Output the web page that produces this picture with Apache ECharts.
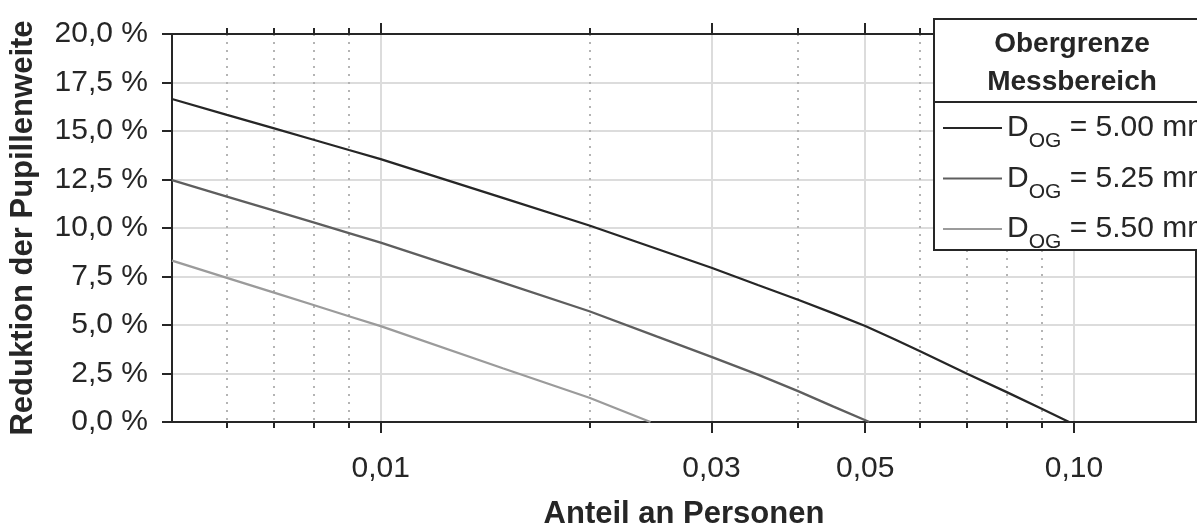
<!DOCTYPE html>
<html>
<head>
<meta charset="utf-8">
<script src="https://cdn.jsdelivr.net/npm/echarts@6/dist/echarts.min.js"></script>
<style>
  html, body { margin: 0; padding: 0; background: #ffffff; }
  #chart { width: 1197px; height: 525px; }
</style>
</head>
<body>
<div id="chart"></div>
<script>
// Axis ranges and ticks (x is a share of persons, drawn on a log scale)
const xMin = 0.005;
const xMax = 0.15;
const majorTicks = [0.01, 0.03, 0.05, 0.10];
const majorLabels = ['0,01', '0,03', '0,05', '0,10'];
const minorTicks = [0.006, 0.007, 0.008, 0.009, 0.02, 0.04, 0.06, 0.07, 0.08, 0.09];
const yMin = 0;
const yMax = 20;
const yStep = 2.5;

// Upper measuring-range limits (legend entries)
const limitLabels = ['5.00', '5.25', '5.50'];

// Reduction of pupil width (%) over share of persons
const share500 = [0.005, 0.006, 0.007, 0.008, 0.009, 0.01, 0.015, 0.02, 0.03, 0.035, 0.04, 0.045, 0.05, 0.055, 0.06, 0.07, 0.08, 0.09, 0.0984];
const reduction500 = [16.65, 15.83, 15.15, 14.55, 14.02, 13.55, 11.55, 10.13, 7.95, 7.06, 6.3, 5.6, 4.95, 4.28, 3.65, 2.5, 1.54, 0.67, 0];

const share525 = [0.005, 0.006, 0.007, 0.008, 0.009, 0.01, 0.015, 0.02, 0.025, 0.03, 0.035, 0.04, 0.045, 0.0507];
const reduction525 = [12.47, 11.62, 10.91, 10.29, 9.74, 9.25, 7.18, 5.71, 4.41, 3.36, 2.44, 1.59, 0.79, 0];

const share550 = [0.005, 0.006, 0.007, 0.008, 0.009, 0.01, 0.015, 0.02, 0.0245];
const reduction550 = [8.32, 7.43, 6.68, 6.03, 5.45, 4.94, 2.77, 1.25, 0];

const lg = Math.log10;
const toPoints = (xs, ys) => xs.map((x, i) => [lg(x), ys[i]]);

const ink = '#262626';
const font = 'Liberation Sans, Arial, Helvetica, sans-serif';
const lineColors = ['#262626', '#5e5e5e', '#9b9b9b'];

function majorLabel(v) {
  for (let i = 0; i < majorTicks.length; i++) {
    if (Math.abs(lg(majorTicks[i]) - v) < 1e-6) return majorLabels[i];
  }
  return '';
}

const seriesNames = limitLabels.map(l => 'DOG = ' + l + ' mm');
const seriesData = [
  toPoints(share500, reduction500),
  toPoints(share525, reduction525),
  toPoints(share550, reduction550)
];

function xAxisBase(position) {
  return {
    type: 'value',
    position: position,
    min: lg(xMin),
    max: lg(xMax),
    axisLine: { show: true, onZero: false, lineStyle: { color: ink, width: 2 } },
    axisLabel: { show: false },
    splitLine: { show: false }
  };
}

const chart = echarts.init(document.getElementById('chart'), null, { renderer: 'canvas' });

chart.setOption({
  animation: false,
  backgroundColor: '#ffffff',
  textStyle: { fontFamily: font },
  grid: { left: 172, right: 1, top: 34, bottom: 103, containLabel: false, outerBoundsMode: 'none' },
  xAxis: [
    // bottom axis: major ticks, labels, solid grid lines and axis title
    Object.assign(xAxisBase('bottom'), {
      name: 'Anteil an Personen',
      nameLocation: 'middle',
      nameGap: 77,
      nameMoveOverlap: false,
      nameTextStyle: { color: ink, fontSize: 31, fontWeight: 'bold', fontFamily: font },
      axisTick: { show: true, inside: false, length: 11, customValues: majorTicks.map(lg), lineStyle: { color: ink, width: 2 } },
      axisLabel: { show: true, customValues: majorTicks.map(lg), formatter: majorLabel, color: ink, fontSize: 30, margin: 32, fontFamily: font },
      splitLine: { show: true, lineStyle: { color: '#dcdcdc', width: 2, type: 'solid' } }
    }),
    // bottom axis: minor ticks and dotted grid lines
    Object.assign(xAxisBase('bottom'), {
      axisTick: { show: true, inside: false, length: 6, customValues: minorTicks.map(lg), lineStyle: { color: ink, width: 2 } },
      splitLine: { show: true, lineStyle: { color: '#b4b4b4', width: 2, type: [2, 6] } }
    }),
    // top frame: major and minor ticks
    Object.assign(xAxisBase('top'), {
      axisTick: { show: true, inside: false, length: 11, customValues: majorTicks.map(lg), lineStyle: { color: ink, width: 2 } }
    }),
    Object.assign(xAxisBase('top'), {
      axisTick: { show: true, inside: false, length: 6, customValues: minorTicks.map(lg), lineStyle: { color: ink, width: 2 } }
    })
  ],
  yAxis: [
    {
      type: 'value',
      position: 'left',
      min: yMin,
      max: yMax,
      interval: yStep,
      name: 'Reduktion der Pupillenweite',
      nameLocation: 'middle',
      nameGap: 133,
      nameMoveOverlap: false,
      nameTextStyle: { color: ink, fontSize: 31, fontWeight: 'bold', fontFamily: font },
      axisLine: { show: true, onZero: false, lineStyle: { color: ink, width: 2 } },
      axisTick: { show: true, inside: false, length: 10, lineStyle: { color: ink, width: 2 } },
      axisLabel: {
        color: ink, fontSize: 30, margin: 24, fontFamily: font,
        formatter: v => v.toFixed(1).replace('.', ',') + ' %'
      },
      splitLine: { show: true, lineStyle: { color: '#dcdcdc', width: 2 } }
    },
    {
      type: 'value',
      position: 'right',
      min: yMin,
      max: yMax,
      interval: yStep,
      axisLine: { show: true, onZero: false, lineStyle: { color: ink, width: 2 } },
      axisTick: { show: false },
      axisLabel: { show: false },
      splitLine: { show: false }
    }
  ],
  legend: {
    orient: 'vertical',
    left: 943,
    top: 106,
    padding: 0,
    itemGap: 4.5,
    itemWidth: 59,
    itemHeight: 14,
    z: 20,
    selectedMode: false,
    icon: 'path://M0,0 L59,0 L59,2 L0,2 Z',
    data: seriesNames,
    formatter: name => {
      const i = seriesNames.indexOf(name);
      return '{d|D}{s|OG}{t| = ' + limitLabels[i] + ' mm}';
    },
    textStyle: {
      color: ink,
      fontFamily: font,
      fontSize: 30,
      rich: {
        d: { fontSize: 30, lineHeight: 44, color: ink, fontFamily: font, verticalAlign: 'middle' },
        s: { fontSize: 21, lineHeight: 20, color: ink, fontFamily: font, verticalAlign: 'top', padding: [25, 0, 0, 0] },
        t: { fontSize: 30, lineHeight: 44, color: ink, fontFamily: font, verticalAlign: 'middle' }
      }
    }
  },
  graphic: [
    {
      type: 'rect',
      z: 10,
      shape: { x: 934, y: 19, width: 300, height: 231 },
      style: { fill: '#ffffff', stroke: ink, lineWidth: 2 }
    },
    {
      type: 'line',
      z: 11,
      shape: { x1: 934, y1: 102, x2: 1234, y2: 102 },
      style: { stroke: ink, lineWidth: 2 }
    },
    {
      type: 'text',
      z: 12,
      style: {
        x: 1072, y: 44, text: 'Obergrenze', fill: ink,
        font: 'bold 28px ' + font, textAlign: 'center', textVerticalAlign: 'middle'
      }
    },
    {
      type: 'text',
      z: 12,
      style: {
        x: 1072, y: 82, text: 'Messbereich', fill: ink,
        font: 'bold 28px ' + font, textAlign: 'center', textVerticalAlign: 'middle'
      }
    }
  ],
  series: seriesNames.map((name, i) => ({
    name: name,
    type: 'line',
    xAxisIndex: 0,
    yAxisIndex: 0,
    data: seriesData[i],
    showSymbol: false,
    symbol: 'none',
    smooth: false,
    clip: true,
    z: 3,
    lineStyle: { color: lineColors[i], width: 2.3 },
    itemStyle: { color: lineColors[i] }
  }))
});
</script>
</body>
</html>
